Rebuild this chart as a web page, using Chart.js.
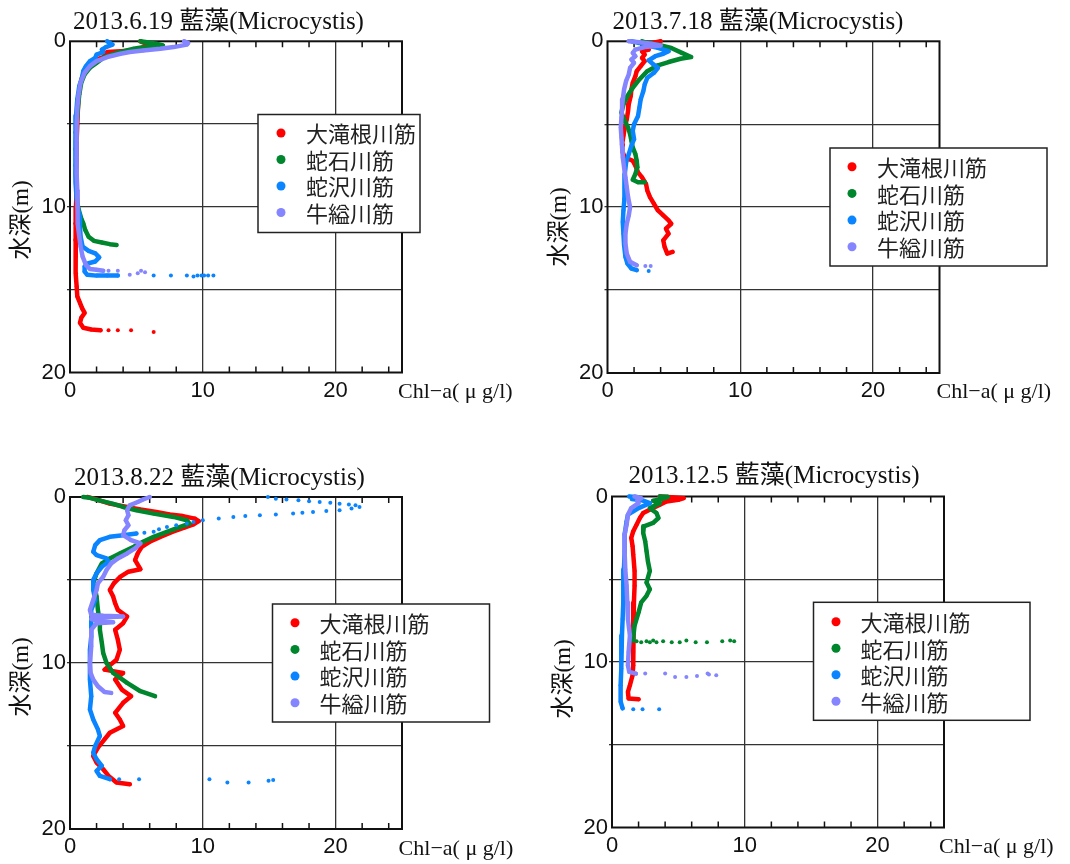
<!DOCTYPE html>
<html>
<head>
<meta charset="utf-8">
<script src="https://cdn.jsdelivr.net/npm/chart.js@4.4.1/dist/chart.umd.min.js"></script>
<style>
html, body { margin: 0; padding: 0; background: #fff; }
#wrap { position: relative; width: 1070px; height: 864px; overflow: hidden; }
.cell { position: absolute; width: 535px; height: 432px; }
</style>
</head>
<body>
<div id="wrap">
    <div class="cell" style="left:0;top:0"><canvas id="c1" width="535" height="432"></canvas></div>
    <div class="cell" style="left:535px;top:0"><canvas id="c2" width="535" height="432"></canvas></div>
    <div class="cell" style="left:0;top:432px"><canvas id="c3" width="535" height="432"></canvas></div>
    <div class="cell" style="left:535px;top:432px"><canvas id="c4" width="535" height="432"></canvas></div>
</div>
<script>
const stations = ['大滝根川筋', '蛇石川筋', '蛇沢川筋', '牛縊川筋'];
const colors = ['#ff0000', '#00862d', '#0a84ff', '#8585ff'];
const xLabels = [0, 10, 20];
const yLabels = [0, 10, 20];
const xGridAt = [10, 20];
const yGridAt = [5, 10, 15];
const xMinorAt = [2, 4, 6, 8, 12, 14, 16, 18, 22, 24];

// [Chl-a, depth] pairs
// 2013.6.19
const jun_red = [[5.3,0],[5.6,0.1],[5.9,0.25],[5.4,0.4],[4.8,0.55],[3.8,0.6],[2.8,0.65],[2.6,0.75],[3.4,0.8],[2.7,0.9],[2.2,1.05],[1.8,1.25],[1.4,1.5],[1.1,1.8],[0.9,2.2],[0.75,2.7],[0.65,3.3],[0.6,4],[0.55,5],[0.5,6],[0.5,7],[0.45,8],[0.5,9],[0.45,10],[0.4,11],[0.4,12],[0.45,13],[0.45,14],[0.5,14.8],[0.55,15.4],[0.75,15.8],[0.9,16.1],[1.1,16.4],[0.85,16.7],[0.75,17.0],[1.0,17.3],[1.6,17.4],[2.3,17.45]];
const jun_redDots = [[2.9,17.45],[3.6,17.45],[4.6,17.45],[6.3,17.55]];
const jun_green = [[5.3,0],[5.8,0.05],[6.5,0.15],[7.0,0.25],[6.3,0.3],[5.5,0.35],[4.8,0.45],[3.5,0.7],[2.6,0.95],[2.0,1.3],[1.5,1.6],[1.1,2.0],[0.85,2.5],[0.7,3.2],[0.6,4],[0.5,5],[0.45,6],[0.45,7],[0.45,8],[0.5,9],[0.55,9.8],[0.7,10.3],[0.85,10.7],[1.0,11.0],[1.15,11.4],[1.4,11.8],[1.8,12.05],[2.4,12.15],[3.0,12.25],[3.5,12.3]];
const jun_greenDots = [];
const jun_blue = [[2.8,0],[3.0,0.1],[3.2,0.2],[2.7,0.35],[2.4,0.5],[2.5,0.65],[2.0,0.8],[1.9,1.0],[1.5,1.2],[1.2,1.5],[1.0,1.8],[0.9,2.2],[0.7,2.7],[0.55,3.5],[0.45,4.5],[0.4,5.5],[0.4,6.5],[0.4,7.5],[0.45,8.5],[0.5,9.5],[0.6,10.1],[0.75,10.6],[0.75,11.2],[0.8,11.8],[0.95,12.4],[1.4,12.65],[1.9,12.8],[2.2,13.05],[1.9,13.3],[1.4,13.4],[1.1,13.6],[1.1,13.9],[1.3,14.1],[2.0,14.15],[2.8,14.15],[3.6,14.15]];
const jun_blueDots = [[6.3,14.15],[7.6,14.15],[8.8,14.15],[9.3,14.2],[9.6,14.15],[9.9,14.15],[10.1,14.15],[10.4,14.15],[10.8,14.15]];
const jun_lav = [[8.6,0],[8.9,0.1],[8.8,0.2],[7.8,0.35],[6.8,0.45],[5.5,0.55],[4.5,0.65],[3.8,0.75],[2.8,0.95],[2.0,1.2],[1.5,1.5],[1.1,1.9],[0.8,2.5],[0.65,3.2],[0.55,4],[0.5,5],[0.5,6],[0.5,7],[0.5,8],[0.55,9],[0.55,10],[0.6,11],[0.7,11.8],[0.8,12.4],[0.95,13.0],[1.2,13.5],[1.5,13.75],[2.0,13.8],[2.5,13.85]];
const jun_lavDots = [[2.9,13.85],[3.6,13.85],[4.5,14.1],[5.1,14.0],[5.35,13.85],[5.65,13.95]];

// 2013.7.18
const jul_red = [[4.0,0],[3.4,0.1],[2.6,0.2],[2.9,0.35],[3.1,0.5],[2.6,0.6],[2.8,0.8],[2.6,1.0],[2.8,1.2],[2.5,1.5],[2.2,1.8],[2.1,2.1],[1.9,2.5],[1.8,2.9],[1.75,3.3],[1.6,3.8],[1.55,4.2],[1.45,4.7],[1.3,5.2],[1.2,5.7],[1.1,6.2],[1.15,6.7],[1.3,7.0],[1.9,7.2],[2.1,7.5],[2.3,7.9],[2.6,8.2],[2.9,8.6],[3.0,9.0],[3.2,9.4],[3.5,9.8],[3.8,10.2],[4.2,10.5],[4.6,10.8],[4.8,11.0],[4.4,11.3],[4.6,11.6],[4.2,12.0],[4.3,12.4],[4.5,12.8],[4.9,12.7]];
const jul_redDots = [];
const jul_green = [[2.6,0],[3.0,0.1],[3.8,0.2],[4.8,0.4],[5.6,0.7],[6.3,0.95],[5.5,1.05],[4.6,1.25],[3.8,1.45],[3.0,1.8],[2.4,2.3],[1.9,2.8],[1.5,3.3],[1.2,3.8],[1.05,4.3],[1.3,4.8],[1.55,5.2],[1.7,5.6],[1.8,6.0],[1.9,6.4],[2.1,6.8],[2.2,7.2],[2.25,7.6],[2.1,8.0],[1.9,8.35],[2.3,8.5],[2.8,8.5]];
const jul_greenDots = [];
const jul_blue = [[1.8,0],[2.4,0.1],[3.0,0.25],[3.8,0.4],[4.6,0.6],[4.2,0.75],[3.6,0.9],[3.1,1.15],[3.4,1.35],[3.8,1.6],[3.5,1.9],[3.0,2.2],[2.8,2.6],[2.7,3.0],[2.5,3.5],[2.4,4.0],[2.3,4.5],[2.0,5.0],[1.9,5.4],[2.0,5.9],[1.8,6.3],[1.6,6.8],[1.4,7.3],[1.3,8.0],[1.3,8.8],[1.25,9.5],[1.2,10.2],[1.15,10.9],[1.2,11.6],[1.25,12.3],[1.35,13.0],[1.5,13.4],[1.8,13.7],[2.2,13.8]];
const jul_blueDots = [[3.1,13.85]];
const jul_lav = [[1.6,0],[2.4,0.05],[3.3,0.15],[4.0,0.25],[2.8,0.35],[2.1,0.5],[1.9,0.7],[2.1,0.9],[1.8,1.1],[2.0,1.3],[1.7,1.6],[1.6,2.0],[1.4,2.4],[1.25,2.9],[1.15,3.5],[1.1,4.0],[1.05,4.6],[1.0,5.2],[1.05,5.8],[1.1,6.4],[1.15,7.0],[1.25,7.6],[1.35,8.2],[1.45,8.8],[1.55,9.4],[1.7,10.0],[1.6,10.5],[1.45,11.0],[1.35,11.6],[1.35,12.2],[1.45,12.8],[1.7,13.3],[2.2,13.5]];
const jul_lavDots = [[2.85,13.55],[3.25,13.55]];

// 2013.8.22
const aug_red = [[1.3,0],[1.8,0.1],[2.2,0.2],[3.0,0.4],[4.3,0.6],[5.3,0.75],[6.5,0.9],[7.5,1.05],[8.5,1.15],[9.4,1.3],[9.7,1.45],[9.3,1.65],[8.6,1.85],[7.7,2.1],[6.8,2.4],[6.0,2.7],[5.4,3.0],[5.1,3.4],[4.9,3.8],[5.3,4.35],[4.4,4.5],[3.8,4.8],[3.3,5.2],[3.0,5.6],[3.25,6.0],[3.4,6.4],[3.6,6.8],[4.3,7.2],[4.0,7.6],[3.4,8.0],[3.6,8.6],[3.75,9.2],[3.5,9.8],[2.6,10.4],[4.0,10.6],[3.4,11.0],[3.9,11.6],[4.6,12.0],[4.0,12.4],[3.4,13.0],[3.75,13.4],[4.0,13.8],[3.0,14.2],[2.6,14.6],[2.1,15.1],[1.75,15.6],[2.0,16.0],[2.5,16.4],[2.9,16.8],[3.5,17.2],[4.5,17.3]];
const aug_redDots = [];
const aug_green = [[1.0,0],[1.5,0.05],[2.2,0.2],[3.2,0.4],[4.0,0.6],[5.0,0.8],[6.3,1.0],[7.8,1.2],[8.8,1.4],[9.0,1.6],[8.3,1.8],[7.3,2.1],[6.3,2.4],[5.5,2.7],[4.8,3.0],[3.75,3.4],[3.0,3.7],[2.4,4.0],[2.0,4.6],[1.75,5.2],[1.9,5.6],[2.0,6.0],[2.1,6.8],[2.25,7.6],[2.25,8.0],[2.4,8.8],[2.5,9.4],[2.75,10.0],[3.25,10.6],[4.3,11.2],[5.3,11.7],[6.4,12.0]];
const aug_greenDots = [];
const aug_blue = [[5.0,2.2],[4.0,2.3],[3.0,2.4],[2.25,2.6],[1.9,2.9],[1.75,3.3],[2.0,3.5],[2.75,3.7],[2.9,3.9],[2.4,4.2],[2.0,4.6],[1.75,5.0],[1.75,5.6],[1.9,6.2],[1.6,6.8],[1.6,7.6],[1.6,8.4],[1.5,9.2],[1.5,10.0],[1.5,11.0],[1.6,12.0],[1.5,12.8],[1.75,13.4],[2.1,14.0],[2.25,14.4],[1.9,15.0],[1.75,15.4],[2.0,15.8],[2.4,16.2],[2.0,16.5],[2.25,16.8],[3.0,17.0]];
const aug_blueDots = [[14.9,0],[15.5,0.1],[16.3,0.15],[17.2,0.2],[18.0,0.25],[18.8,0.3],[19.6,0.35],[20.3,0.4],[21.0,0.45],[21.5,0.5],[21.8,0.6],[21.2,0.7],[20.3,0.8],[19.3,0.85],[18.3,0.9],[17.5,0.95],[16.8,1.0],[15.5,1.05],[14.3,1.1],[13.2,1.15],[12.3,1.2],[11.2,1.3],[10.0,1.4],[9.3,1.5],[8.8,1.6],[8.0,1.7],[7.3,1.8],[6.7,1.95],[6.3,2.1],[5.6,2.15],[3.7,17.0],[5.2,17.0],[10.5,17.0],[11.85,17.2],[13.45,17.2],[14.95,17.1],[15.3,17.05]];
const aug_lav = [[6.0,0],[5.5,0.15],[5.1,0.3],[4.5,0.5],[4.3,0.8],[4.4,1.1],[4.2,1.4],[4.4,1.7],[4.1,2.0],[4.0,2.3],[4.6,2.6],[5.3,2.8],[4.9,3.1],[4.3,3.4],[3.6,3.7],[3.1,4.0],[2.75,4.4],[2.5,4.8],[2.1,5.2],[2.0,5.6],[1.75,6.2],[1.5,6.8],[1.6,7.1],[2.5,7.15],[4.0,7.2],[2.5,7.25],[1.6,7.35],[2.4,7.5],[3.25,7.55],[2.0,7.6],[1.6,8.0],[1.6,9.0],[1.5,10.0],[1.55,10.6],[1.75,11.0],[2.1,11.4],[2.6,11.75],[3.1,11.8]];
const aug_lavDots = [];

// 2013.12.5
const dec_red = [[3.6,0],[4.5,0.05],[5.4,0.1],[5.0,0.2],[4.1,0.3],[3.6,0.5],[3.1,0.7],[2.35,1.0],[2.1,1.3],[1.85,1.7],[1.6,2.1],[1.45,2.5],[1.55,3.0],[1.6,3.5],[1.7,4.5],[1.7,5.4],[1.65,6.4],[1.6,7.4],[1.6,8.4],[1.6,9.4],[1.6,10.2],[1.55,10.8],[1.35,11.4],[1.2,11.8],[1.25,12.2],[2.0,12.25]];
const dec_redDots = [];
const dec_green = [[3.6,0],[4.2,0.02],[3.8,0.15],[3.1,0.25],[3.6,0.4],[2.85,0.7],[3.35,1.0],[3.5,1.3],[3.1,1.6],[2.4,1.8],[2.35,2.2],[2.5,2.7],[2.6,3.3],[2.7,3.9],[2.85,4.5],[2.6,5.2],[2.85,5.6],[2.6,6.0],[2.2,6.4],[2.0,7.0],[1.7,7.8],[1.6,8.5],[1.6,8.7]];
const dec_greenDots = [[1.85,8.75],[2.2,8.8],[2.6,8.75],[2.85,8.8],[3.1,8.7],[3.35,8.8],[3.85,8.75],[4.5,8.8],[5.1,8.8],[5.6,8.7],[6.3,8.8],[7.15,8.8],[8.3,8.75],[8.9,8.7],[9.2,8.75]];
const dec_blue = [[1.3,0],[2.0,0.05],[1.5,0.15],[2.35,0.25],[2.85,0.4],[2.0,0.7],[1.2,1.1],[1.1,1.5],[0.95,2.3],[0.95,3.3],[0.9,4.4],[0.85,5.4],[0.85,6.4],[0.8,7.4],[0.75,8.4],[0.7,9.4],[0.7,10.4],[0.65,11.4],[0.65,12.4],[0.8,12.8]];
const dec_blueDots = [[1.6,12.85],[2.3,12.85],[3.55,12.85]];
const dec_lav = [[1.7,0],[2.2,0.1],[1.9,0.25],[2.0,0.4],[1.45,0.7],[1.2,1.1],[1.1,1.7],[0.95,2.3],[0.95,3.3],[1.0,4.4],[1.1,5.4],[1.15,6.4],[1.2,7.4],[1.35,8.4],[1.25,9.4],[1.2,10.2],[1.3,10.6],[1.8,10.7]];
const dec_lavDots = [[2.5,10.7],[4.0,10.7],[4.75,10.9],[5.6,10.9],[6.4,10.85],[7.2,10.7],[7.3,10.75],[7.85,10.8]];

const panels = [
    {
        id: 'c1', title: '2013.6.19 藍藻(Microcystis)',
        lines: [jun_red, jun_green, jun_blue, jun_lav],
        dots: [jun_redDots, jun_greenDots, jun_blueDots, jun_lavDots],
        area: { l: 70, t: 41.3, r: 402, b: 372.5 },
        titleAt: [73, 28.5], yTitleAt: [22, 220], xTitleAt: [398, 392],
        legend: { x: 258, y: 114.5, w: 162, h: 118, dotX: 281, textX: 306, rowY: 133, rowH: 26.5 }
    },
    {
        id: 'c2', title: '2013.7.18 藍藻(Microcystis)',
        lines: [jul_red, jul_green, jul_blue, jul_lav],
        dots: [jul_redDots, jul_greenDots, jul_blueDots, jul_lavDots],
        area: { l: 72.5, t: 41.3, r: 404.5, b: 373 },
        titleAt: [77.5, 28.5], yTitleAt: [25, 227], xTitleAt: [401.5, 392],
        legend: { x: 295, y: 148, w: 217, h: 118, dotX: 317, textX: 342, rowY: 166.7, rowH: 26.7 }
    },
    {
        id: 'c3', title: '2013.8.22 藍藻(Microcystis)',
        lines: [aug_red, aug_green, aug_blue, aug_lav],
        dots: [aug_redDots, aug_greenDots, aug_blueDots, aug_lavDots],
        area: { l: 70, t: 65, r: 402, b: 397 },
        titleAt: [74, 53], yTitleAt: [22, 245], xTitleAt: [398.6, 417],
        legend: { x: 272.5, y: 172, w: 217, h: 118, dotX: 295, textX: 319.5, rowY: 190.7, rowH: 26.7 }
    },
    {
        id: 'c4', title: '2013.12.5 藍藻(Microcystis)',
        lines: [dec_red, dec_green, dec_blue, dec_lav],
        dots: [dec_redDots, dec_greenDots, dec_blueDots, dec_lavDots],
        area: { l: 77, t: 64.5, r: 409, b: 395.5 },
        titleAt: [93.6, 51], yTitleAt: [28.5, 247], xTitleAt: [404, 415],
        legend: { x: 278.5, y: 170.3, w: 216.5, h: 118, dotX: 301, textX: 325.6, rowY: 189.7, rowH: 26.5 }
    }
];

const decor = {
    id: 'decor',
    beforeDatasetsDraw(chart, args, o) {
        const { ctx, chartArea: a, scales } = chart;
        ctx.save();
        ctx.strokeStyle = '#111';
        ctx.lineWidth = 1.5;
        // short inward ticks on the top and bottom frame
        xMinorAt.forEach(v => {
            const px = scales.x.getPixelForValue(v);
            ctx.beginPath();
            ctx.moveTo(px, a.top); ctx.lineTo(px, a.top + 6);
            ctx.moveTo(px, a.bottom); ctx.lineTo(px, a.bottom - 6);
            ctx.stroke();
        });
        ctx.lineWidth = 2;
        ctx.strokeRect(a.left, a.top, a.right - a.left, a.bottom - a.top);
        ctx.restore();
    },
    afterDraw(chart, args, o) {
        const ctx = chart.ctx;
        ctx.save();
        ctx.fillStyle = '#111';
        ctx.textBaseline = 'alphabetic';
        ctx.textAlign = 'left';
        ctx.font = '25px "Liberation Serif", "Noto Sans CJK JP", serif';
        ctx.fillText(o.title, o.titleAt[0], o.titleAt[1]);

        ctx.font = '22px "Liberation Serif", "Noto Sans CJK JP", serif';
        ctx.textBaseline = 'middle';
        ctx.fillText('Chl−a( μ g/l)', o.xTitleAt[0], o.xTitleAt[1]);

        ctx.save();
        ctx.translate(o.yTitleAt[0], o.yTitleAt[1]);
        ctx.rotate(-Math.PI / 2);
        ctx.textAlign = 'center';
        ctx.font = '23px "Liberation Serif", "Noto Sans CJK JP", serif';
        ctx.fillText('水深(m)', 0, 0);
        ctx.restore();

        const lg = o.legend;
        ctx.fillStyle = '#fff';
        ctx.fillRect(lg.x, lg.y, lg.w, lg.h);
        ctx.strokeStyle = '#222';
        ctx.lineWidth = 1.5;
        ctx.strokeRect(lg.x, lg.y, lg.w, lg.h);
        ctx.font = '22px "Noto Sans CJK JP", sans-serif';
        ctx.textBaseline = 'middle';
        stations.forEach((name, i) => {
            const yy = lg.rowY + i * lg.rowH;
            ctx.fillStyle = colors[i];
            ctx.beginPath();
            ctx.arc(lg.dotX, yy, 4.5, 0, Math.PI * 2);
            ctx.fill();
            ctx.fillStyle = '#222';
            ctx.fillText(name, lg.textX, yy + 1);
        });
        ctx.restore();
    }
};

function makeChart(p) {
    const datasets = [];
    stations.forEach((name, i) => {
        datasets.push({
            label: name,
            data: p.lines[i].map(([x, y]) => ({ x, y })),
            showLine: true,
            borderColor: colors[i],
            backgroundColor: colors[i],
            borderWidth: 4.5,
            borderJoinStyle: 'round',
            borderCapStyle: 'round',
            pointRadius: 2,
            pointBorderWidth: 0,
            order: 10 - i * 2,
            clip: 8
        });
        if (p.dots[i].length) {
            datasets.push({
                label: name + ' (dots)',
                data: p.dots[i].map(([x, y]) => ({ x, y })),
                showLine: false,
                backgroundColor: colors[i],
                borderWidth: 0,
                pointRadius: 2,
                order: 9 - i * 2,
                clip: 8
            });
        }
    });

    const tickFont = { family: '"Liberation Sans", Arial, sans-serif', size: 22 };

    return new Chart(document.getElementById(p.id), {
        type: 'scatter',
        data: { datasets },
        options: {
            responsive: false,
            animation: false,
            devicePixelRatio: 1,
            layout: {
                padding: { left: 0, top: p.area.t, right: 535 - p.area.r, bottom: 432 - p.area.b - 40 }
            },
            plugins: {
                legend: { display: false },
                tooltip: { enabled: false },
                decor: p
            },
            scales: {
                x: {
                    type: 'linear', min: 0, max: 25,
                    afterFit: s => { s.height = 40; },
                    ticks: {
                        stepSize: 2, autoSkip: false, maxRotation: 0, padding: 5,
                        font: tickFont, color: '#111',
                        callback: v => xLabels.includes(v) ? String(v) : ''
                    },
                    grid: {
                        drawTicks: false, lineWidth: 1.3,
                        color: c => (c.tick && xGridAt.includes(c.tick.value)) ? '#333' : 'rgba(0,0,0,0)'
                    },
                    border: { display: false }
                },
                y: {
                    type: 'linear', min: 0, max: 20, reverse: true,
                    afterFit: s => { s.width = p.area.l; },
                    ticks: {
                        stepSize: 5, autoSkip: false, padding: 1,
                        font: tickFont, color: '#111',
                        callback: v => yLabels.includes(v) ? String(v) : ''
                    },
                    grid: {
                        drawTicks: true, tickLength: 3, lineWidth: 1.3,
                        color: c => (c.tick && yGridAt.includes(c.tick.value)) ? '#333' : 'rgba(0,0,0,0)'
                    },
                    border: { display: false }
                }
            }
        },
        plugins: [decor]
    });
}

panels.forEach(makeChart);
</script>
</body>
</html>
